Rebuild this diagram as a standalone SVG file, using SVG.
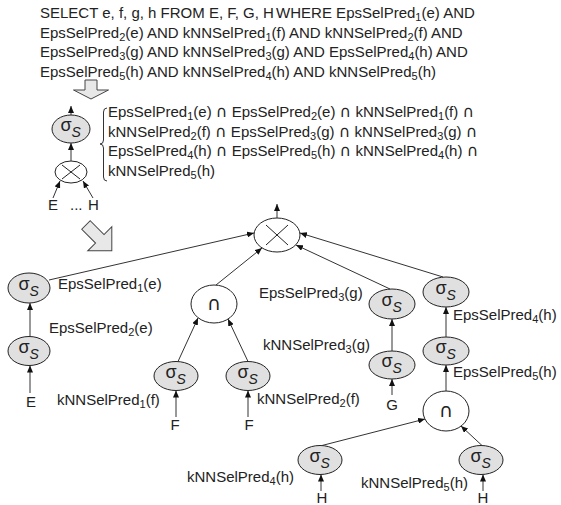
<svg xmlns="http://www.w3.org/2000/svg" width="561" height="505" viewBox="0 0 561 505">
<style>
text{font-family:"Liberation Sans",Arial,sans-serif;fill:#222}
.t{font-size:15px}
.sb{font-size:11px}
.ci{font-family:"DejaVu Sans",sans-serif;font-size:16px}
.sig{font-size:18px;text-anchor:middle}
.ss{font-size:14px;font-style:italic}
.cap{font-family:"DejaVu Sans",sans-serif;font-size:19px;text-anchor:middle}
.lt{font-size:15px;text-anchor:middle}
.g{fill:#e0e0e0;stroke:#222;stroke-width:1}
.w{fill:#fff;stroke:#222;stroke-width:1}
.x{stroke:#222;stroke-width:1}
.c line{stroke:#333;stroke-width:1;marker-end:url(#ah)}
.blk{fill:#e8e8e8;stroke:#444;stroke-width:1}
</style>
<defs>
<marker id="ah" markerWidth="8" markerHeight="6" refX="7" refY="3" orient="auto" markerUnits="userSpaceOnUse"><path d="M0,0 L7,3 L0,6 z" fill="#111"/></marker>
</defs>
<rect width="561" height="505" fill="#fff"/>

<g id="query">
<text class="t" x="40" y="18">SELECT e, f, g, h FROM E, F, G, H<tspan dx="-2"> WHERE EpsSelPred</tspan><tspan class="sb" dy="3">1</tspan><tspan dy="-3">(e) AND</tspan></text>
<text class="t" x="40" y="37.5">EpsSelPred<tspan class="sb" dy="3">2</tspan><tspan dy="-3">(e) AND kNNSelPred</tspan><tspan class="sb" dy="3">1</tspan><tspan dy="-3">(f) AND kNNSelPred</tspan><tspan class="sb" dy="3">2</tspan><tspan dy="-3">(f) AND</tspan></text>
<text class="t" x="40" y="57">EpsSelPred<tspan class="sb" dy="3">3</tspan><tspan dy="-3">(g) AND kNNSelPred</tspan><tspan class="sb" dy="3">3</tspan><tspan dy="-3">(g) AND EpsSelPred</tspan><tspan class="sb" dy="3">4</tspan><tspan dy="-3">(h) AND</tspan></text>
<text class="t" x="40" y="76.5">EpsSelPred<tspan class="sb" dy="3">5</tspan><tspan dy="-3">(h) AND kNNSelPred</tspan><tspan class="sb" dy="3">4</tspan><tspan dy="-3">(h) AND kNNSelPred</tspan><tspan class="sb" dy="3">5</tspan><tspan dy="-3">(h)</tspan></text>
</g>

<g id="arrow-down">
<path class="blk" transform="translate(91,80)" d="M-6,0 H6 V10 H17.5 L0,19 L-17.5,10 H-6 Z"/>
</g>

<g id="predicate">
<path d="M107,108 Q103.5,108 103.5,112 L103.5,140 Q103.5,144 100,144 Q103.5,144 103.5,148 L103.5,177 Q103.5,181 107,181" fill="none" stroke="#333" stroke-width="1"/>
<text class="t" x="108" y="117">EpsSelPred<tspan class="sb" dy="3">1</tspan><tspan dy="-3">(e) </tspan><tspan class="ci">∩</tspan> EpsSelPred<tspan class="sb" dy="3">2</tspan><tspan dy="-3">(e) </tspan><tspan class="ci">∩</tspan> kNNSelPred<tspan class="sb" dy="3">1</tspan><tspan dy="-3">(f) </tspan><tspan class="ci">∩</tspan></text>
<text class="t" x="108" y="136.5">kNNSelPred<tspan class="sb" dy="3">2</tspan><tspan dy="-3">(f) </tspan><tspan class="ci">∩</tspan> EpsSelPred<tspan class="sb" dy="3">3</tspan><tspan dy="-3">(g) </tspan><tspan class="ci">∩</tspan> kNNSelPred<tspan class="sb" dy="3">3</tspan><tspan dy="-3">(g) </tspan><tspan class="ci">∩</tspan></text>
<text class="t" x="108" y="156">EpsSelPred<tspan class="sb" dy="3">4</tspan><tspan dy="-3">(h) </tspan><tspan class="ci">∩</tspan> EpsSelPred<tspan class="sb" dy="3">5</tspan><tspan dy="-3">(h) </tspan><tspan class="ci">∩</tspan> kNNSelPred<tspan class="sb" dy="3">4</tspan><tspan dy="-3">(h) </tspan><tspan class="ci">∩</tspan></text>
<text class="t" x="108" y="175.5">kNNSelPred<tspan class="sb" dy="3">5</tspan><tspan dy="-3">(h)</tspan></text>
</g>

<g id="top-sigma"><ellipse class="g" cx="71" cy="129" rx="19" ry="14"/><text class="sig" x="66" y="131">σ</text><text class="ss" x="71.5" y="137">S</text></g>
<g id="top-cross"><ellipse class="w" cx="71" cy="172" rx="16" ry="11"/><line class="x" x1="62" y1="165" x2="80" y2="179"/><line class="x" x1="62" y1="179" x2="80" y2="165"/></g>
<g id="top-E"><text class="t" x="48" y="210">E</text></g>
<g id="top-dots"><text class="t" x="70" y="210">...</text></g>
<g id="top-H"><text class="t" x="88" y="210">H</text></g>

<g id="arrow-diag">
<path class="blk" transform="translate(86,225) rotate(45)" d="M0,-6 H19.5 V-17 L36.5,0 L19.5,17 V6 H0 Z"/>
</g>

<g id="root"><ellipse class="w" cx="277" cy="235" rx="23" ry="17"/><line class="x" x1="266" y1="225" x2="288" y2="245"/><line class="x" x1="266" y1="245" x2="288" y2="225"/></g>

<g id="sigma-e1"><ellipse class="g" cx="29" cy="288" rx="21" ry="15"/><text class="sig" x="24" y="290">σ</text><text class="ss" x="29.5" y="296">S</text></g>
<g id="sigma-e2"><ellipse class="g" cx="29" cy="351" rx="21" ry="14.5"/><text class="sig" x="24" y="353">σ</text><text class="ss" x="29.5" y="359">S</text></g>
<g id="leaf-E"><text class="lt" x="31" y="407">E</text></g>

<g id="cap-f"><ellipse class="w" cx="214" cy="304" rx="23" ry="19"/><text class="cap" x="214" y="310">∩</text></g>
<g id="sigma-f1"><ellipse class="g" cx="176" cy="376" rx="22" ry="14.5"/><text class="sig" x="171" y="378">σ</text><text class="ss" x="176.5" y="384">S</text></g>
<g id="sigma-f2"><ellipse class="g" cx="248" cy="376" rx="22" ry="14.5"/><text class="sig" x="243" y="378">σ</text><text class="ss" x="248.5" y="384">S</text></g>
<g id="leaf-F1"><text class="lt" x="175" y="430">F</text></g>
<g id="leaf-F2"><text class="lt" x="249" y="430">F</text></g>

<g id="sigma-g1"><ellipse class="g" cx="392" cy="304" rx="23" ry="15"/><text class="sig" x="387" y="306">σ</text><text class="ss" x="392.5" y="312">S</text></g>
<g id="sigma-g2"><ellipse class="g" cx="392" cy="365" rx="23" ry="14"/><text class="sig" x="387" y="367">σ</text><text class="ss" x="392.5" y="373">S</text></g>
<g id="leaf-G"><text class="lt" x="392" y="410">G</text></g>

<g id="sigma-h1"><ellipse class="g" cx="446" cy="292" rx="23" ry="15"/><text class="sig" x="441" y="294">σ</text><text class="ss" x="446.5" y="300">S</text></g>
<g id="sigma-h2"><ellipse class="g" cx="446" cy="351" rx="23" ry="14"/><text class="sig" x="441" y="353">σ</text><text class="ss" x="446.5" y="359">S</text></g>
<g id="cap-h"><ellipse class="w" cx="446" cy="411" rx="23" ry="20"/><text class="cap" x="446" y="417">∩</text></g>
<g id="sigma-h3"><ellipse class="g" cx="320" cy="460" rx="22" ry="14.5"/><text class="sig" x="315" y="462">σ</text><text class="ss" x="320.5" y="468">S</text></g>
<g id="sigma-h4"><ellipse class="g" cx="481" cy="460" rx="22" ry="14.5"/><text class="sig" x="476" y="462">σ</text><text class="ss" x="481.5" y="468">S</text></g>
<g id="leaf-H1"><text class="lt" x="322" y="503">H</text></g>
<g id="leaf-H2"><text class="lt" x="483" y="503">H</text></g>

<g id="labels">
<text class="t" x="58" y="289">EpsSelPred<tspan class="sb" dy="3">1</tspan><tspan dy="-3">(e)</tspan></text>
<text class="t" x="49" y="333">EpsSelPred<tspan class="sb" dy="3">2</tspan><tspan dy="-3">(e)</tspan></text>
<text class="t" x="57" y="405">kNNSelPred<tspan class="sb" dy="3">1</tspan><tspan dy="-3">(f)</tspan></text>
<text class="t" x="257" y="404">kNNSelPred<tspan class="sb" dy="3">2</tspan><tspan dy="-3">(f)</tspan></text>
<text class="t" x="259" y="298">EpsSelPred<tspan class="sb" dy="3">3</tspan><tspan dy="-3">(g)</tspan></text>
<text class="t" x="263" y="350">kNNSelPred<tspan class="sb" dy="3">3</tspan><tspan dy="-3">(g)</tspan></text>
<text class="t" x="453" y="320">EpsSelPred<tspan class="sb" dy="3">4</tspan><tspan dy="-3">(h)</tspan></text>
<text class="t" x="453" y="377">EpsSelPred<tspan class="sb" dy="3">5</tspan><tspan dy="-3">(h)</tspan></text>
<text class="t" x="187" y="482">kNNSelPred<tspan class="sb" dy="3">4</tspan><tspan dy="-3">(h)</tspan></text>
<text class="t" x="361" y="488">kNNSelPred<tspan class="sb" dy="3">5</tspan><tspan dy="-3">(h)</tspan></text>
</g>

<g id="connectors" class="c">
<line x1="71" y1="115" x2="71" y2="106"/>
<line x1="71" y1="161" x2="71" y2="143"/>
<line x1="53" y1="198" x2="60" y2="181"/>
<line x1="93" y1="198" x2="83" y2="181"/>
<line x1="277" y1="218" x2="277" y2="204"/>
<line x1="49" y1="280" x2="254" y2="233"/>
<line x1="30" y1="336.5" x2="30" y2="303"/>
<line x1="30" y1="393" x2="30" y2="365.5"/>
<line x1="216" y1="285" x2="262" y2="248"/>
<line x1="178" y1="361.5" x2="198" y2="318"/>
<line x1="248" y1="361.5" x2="228" y2="319"/>
<line x1="176" y1="417" x2="176" y2="390.5"/>
<line x1="248" y1="417" x2="248" y2="390.5"/>
<line x1="390" y1="289" x2="296" y2="245"/>
<line x1="392" y1="351" x2="392" y2="319"/>
<line x1="392" y1="395" x2="392" y2="379"/>
<line x1="443" y1="277" x2="300" y2="233"/>
<line x1="446" y1="337" x2="446" y2="307"/>
<line x1="446" y1="391" x2="446" y2="365"/>
<line x1="322" y1="445.5" x2="425" y2="419"/>
<line x1="482" y1="445.5" x2="461" y2="426"/>
<line x1="321" y1="491" x2="321" y2="474.5"/>
<line x1="483" y1="491" x2="483" y2="474.5"/>
</g>
</svg>
